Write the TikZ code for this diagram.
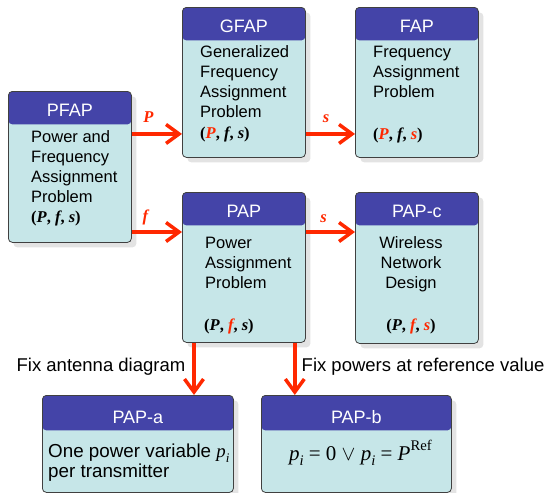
\documentclass[tikz,border=0pt]{standalone}
\usepackage{fontspec}
\setmainfont{Liberation Sans}
\newfontfamily\tupfont{Liberation Serif}
\usetikzlibrary{arrows.meta,shadows,positioning}

\definecolor{headblue}{RGB}{68,68,168}
\definecolor{bodycyan}{RGB}{198,230,232}
\definecolor{varred}{RGB}{255,40,0}
\definecolor{framegray}{RGB}{64,64,64}

\newcommand{\vr}[1]{\textcolor{varred}{#1}}
\newcommand{\tupl}[3]{{\tupfont\bfseries(\textit{#1}, \textit{#2}, \textit{#3})}}
\newcommand{\pvar}{{\tupfont\itshape p\raisebox{-0.28em}{\scalebox{0.7}{i}}}}

\tikzset{headh/.store in=\headh, headh=33pt}

\begin{document}
\begin{tikzpicture}[x=1pt, y=-1pt,
  prob/.style={draw=framegray, line width=0.8pt, rounded corners=4pt, fill=bodycyan,
    anchor=north west, inner sep=0pt, minimum width=123pt, minimum height=150pt,
    drop shadow={shadow xshift=5pt, shadow yshift=-5pt, fill=black!22},
    path picture={\fill[headblue] (path picture bounding box.north west)
      rectangle ([yshift=-\headh]path picture bounding box.north east);}},
  wide/.style={minimum width=191pt, minimum height=97pt, headh=35pt},
  title/.style={text=white, font=\fontsize{18}{20}\selectfont, anchor=base, inner sep=0pt},
  body/.style={font=\fontsize{16.5}{20}\selectfont, align=left, anchor=base west, inner sep=0pt},
  tup/.style={font=\fontsize{16.5}{20}\selectfont, anchor=base west, inner sep=0pt},
  flow/.style={draw=varred, line width=3.5pt, -{Straight Barb[length=13pt,width=19pt]}},
  lab/.style={text=varred, font=\fontsize{16.5}{20}\tupfont\bfseries\itshape, inner sep=0pt},
  note/.style={font=\fontsize{18.5}{22}\selectfont, inner sep=0pt}
]
  \useasboundingbox (0,0) rectangle (547,493);

  % problem boxes
  \node[prob, minimum height=151pt] (pfap) at (8,91) {};
  \node[prob] (gfap) at (182,7) {};
  \node[prob] (fap) at (355,7) {};
  \node[prob] (pap) at (182,192) {};
  \node[prob, minimum height=151pt] (papc) at (355,192) {};
  \node[prob, wide] (papa) at (42,395) {};
  \node[prob, wide, minimum width=190pt] (papb) at (261,395) {};

  % titles
  \node[title] (pfap-t) at ([yshift=-25pt]pfap.north) {PFAP};
  \node[title] (gfap-t) at ([yshift=-25pt]gfap.north) {GFAP};
  \node[title] (fap-t) at ([yshift=-25pt]fap.north) {FAP};
  \node[title] (pap-t) at ([yshift=-25pt]pap.north) {PAP};
  \node[title] (papc-t) at ([yshift=-25pt]papc.north) {PAP-c};
  \node[title] (papa-t) at ([yshift=-28pt]papa.north) {PAP-a};
  \node[title] (papb-t) at ([yshift=-28pt]papb.north) {PAP-b};

  % contents (base = last line)
  \node[body] (pfap-b) at ([xshift=23pt,yshift=-111pt]pfap.north west) {Power and\\Frequency\\Assignment\\Problem};
  \node[tup] (pfap-v) at ([xshift=23pt,yshift=-131pt]pfap.north west) {\tupl{P}{f}{s}};
  \node[body] (gfap-b) at ([xshift=18pt,yshift=-110pt]gfap.north west) {Generalized\\Frequency\\Assignment\\Problem};
  \node[tup] (gfap-v) at ([xshift=18pt,yshift=-131pt]gfap.north west) {\tupl{\vr{P}}{f}{s}};
  \node[body] (fap-b) at ([xshift=18pt,yshift=-90pt]fap.north west) {Frequency\\Assignment\\Problem};
  \node[tup] (fap-v) at ([xshift=18pt,yshift=-132pt]fap.north west) {\tupl{\vr{P}}{f}{\vr{s}}};
  \node[body] (pap-b) at ([xshift=23pt,yshift=-96pt]pap.north west) {Power\\Assignment\\Problem};
  \node[tup] (pap-v) at ([xshift=22pt,yshift=-138pt]pap.north west) {\tupl{P}{\vr{f}}{s}};
  \node[body, align=center, anchor=base] (papc-b) at ([xshift=56pt,yshift=-96pt]papc.north west) {Wireless\\Network\\Design};
  \node[tup, anchor=base] (papc-v) at ([xshift=56pt,yshift=-138pt]papc.north west) {\tupl{P}{\vr{f}}{\vr{s}}};
  \node[body, font=\fontsize{18.8}{20.5}\selectfont] (papa-b) at ([xshift=6pt,yshift=-82.5pt]papa.north west) {One power variable \pvar\\per transmitter};
  \node[tup, anchor=base, font=\fontsize{21}{22}\selectfont] (papb-v) at ([xshift=4pt,yshift=-65pt]papb.north)
    {\tupfont\pvar{} = 0 $\vee$ \pvar{} = {\itshape P}\raisebox{0.45em}{\scalebox{0.7}{Ref}}};

  % reductions
  \coordinate (f-in) at ([yshift=-40pt]pap.north west);
  \coordinate (a-out) at ([xshift=12pt]pap.south west);
  \coordinate (b-out) at ([xshift=-11pt]pap.south east);
  \draw[flow] (pfap.east |- gfap-v) -- node[lab, pos=0.33, above=10pt] {P} (gfap.west |- gfap-v);
  \draw[flow] (gfap.east |- gfap-v) -- node[lab, pos=0.41, above=10pt] {s} (fap.west |- gfap-v);
  \draw[flow] (pfap.east |- f-in) -- node[lab, pos=0.27, above=5pt] {f} (f-in);
  \draw[flow] (pap.east |- f-in) -- node[lab, pos=0.36, above=8pt] {s} (papc.west |- f-in);
  \draw[flow] (a-out) -- (a-out |- papa.north);
  \draw[flow] (b-out) -- (b-out |- papb.north);

  \node[note, anchor=base east] (fix-a) at (185.5,371.5) {Fix antenna diagram};
  \node[note, anchor=base west] (fix-b) at (301.5,371.5) {Fix powers at reference value};
\end{tikzpicture}
\end{document}
